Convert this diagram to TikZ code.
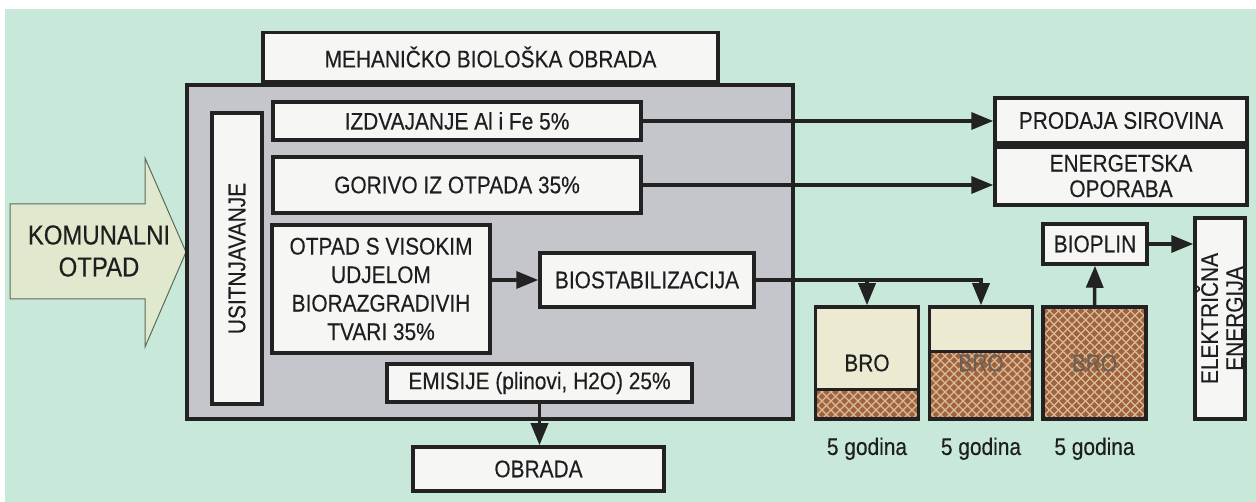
\documentclass[tikz,border=0pt]{standalone}
\usepackage{fontspec}
\setmainfont{Liberation Sans}[FakeStretch=0.87,FakeBold=0.3]
\usetikzlibrary{arrows.meta,calc}
\definecolor{bgc}{HTML}{C8E9DA}
\definecolor{grayc}{HTML}{C4C6CC}
\definecolor{boxc}{HTML}{F6F7F5}
\definecolor{lc}{HTML}{222222}
\definecolor{arrc}{HTML}{E0E9CD}
\definecolor{arrl}{HTML}{5A6A5A}
\definecolor{creamc}{HTML}{ECEBD2}
\definecolor{brownc}{HTML}{A0623F}
\definecolor{hatchc}{HTML}{D9BC94}
\definecolor{txtc}{HTML}{1E1E1E}
\definecolor{fadec}{HTML}{6E5E52}
\newcommand\bfz{\fontsize{24}{28}\selectfont}
\begin{document}
\begin{tikzpicture}[x=1pt,y=-1pt,
  box/.style={draw=lc,line width=3.5pt,fill=boxc,inner sep=0pt,text=txtc,
    font=\bfz,align=center},
  arr/.style={draw=lc,line width=3.5pt,-{Triangle[length=22pt,width=17pt]}},
  lbl/.style={inner sep=0pt,text=txtc,font=\bfz},
  bro/.style={draw=lc,line width=3.5pt,fill=creamc,inner sep=0pt,
    minimum width=103pt,minimum height=112pt,text=txtc,font=\bfz},
  hatched/.style={path picture={
    \begin{scope}
      \clip (path picture bounding box.south west) rectangle ([yshift=#1]path picture bounding box.south east);
      \fill[brownc] (path picture bounding box.south west) rectangle ([yshift=#1]path picture bounding box.south east);
      \foreach \i in {-153,-144,...,153} {
        \draw[hatchc,line width=1.1pt] ([xshift=\i pt]path picture bounding box.south) -- ++(130,-130)
          ([xshift=\i pt]path picture bounding box.south) -- ++(-130,-130);
      }
    \end{scope}
    \draw[lc,line width=3pt] ([yshift=#1]path picture bounding box.south west) -- ([yshift=#1]path picture bounding box.south east);
  }}
]
\useasboundingbox (0,0) rectangle (1256,502);
\fill[white] (0,0) rectangle (1256,502);
\fill[bgc] (5,9) rectangle (1256,502);

% input arrow
\filldraw[fill=arrc,draw=arrl,line width=1pt]
  (10,204) -- (145,204) -- (145,158) -- (186,252) -- (145,347) -- (145,299) -- (10,299) -- cycle;
\node[lbl,align=center,font=\fontsize{27.5}{32}\selectfont] (kom) at (99,251) {KOMUNALNI\\OTPAD};

% main blocks
\node[box,minimum width=455pt,minimum height=49pt] (title) at (490.5,57) {MEHANIČKO BIOLOŠKA OBRADA};
\node[draw=lc,line width=3.5pt,fill=grayc,minimum width=606pt,minimum height=334pt,inner sep=0pt] (mbo) at (490,252) {};
\node[box,minimum width=291pt,minimum height=50pt,rotate=90] (usit) at (237,258.5) {USITNJAVANJE};
\node[box,minimum width=368pt,minimum height=38pt] (iz) at (457,121) {IZDVAJANJE Al i Fe 5\%};
\node[box,minimum width=368pt,minimum height=56pt] (gor) at (457,185) {GORIVO IZ OTPADA 35\%};
\node[box,minimum width=218pt,minimum height=128pt,font=\fontsize{24}{28.5}\selectfont] (otp) at (381,289)
  {OTPAD S VISOKIM\\UDJELOM\\BIORAZGRADIVIH\\TVARI 35\%};
\node[box,minimum width=214pt,minimum height=54pt] (bio) at (647,280) {BIOSTABILIZACIJA};
\node[box,minimum width=305pt,minimum height=38pt] (emis) at (539.5,383) {EMISIJE (plinovi, H2O) 25\%};
\node[box,minimum width=251pt,minimum height=44pt] (obr) at (538.5,469) {OBRADA};

% right side
\node[box,minimum width=252pt,minimum height=45pt] (prod) at (1121,120.5) {PRODAJA SIROVINA};
\node[box,minimum width=252pt,minimum height=58pt,font=\fontsize{24}{25.5}\selectfont] (ener) at (1121,176) {ENERGETSKA\\OPORABA};
\node[box,minimum width=104pt,minimum height=40pt] (biop) at (1095,244) {BIOPLIN};
\node[box,minimum width=201pt,minimum height=50pt,rotate=90,font=\fontsize{24}{25}\selectfont] (elek) at (1220,318.5) {ELEKTRIČNA\\ENERGIJA};

\node[bro,hatched=29pt] (bro1) at (867,363) {BRO};
\node[bro,hatched=67pt,text=fadec] (bro2) at (981,363) {BRO};
\node[bro,hatched=120pt,text=fadec] (bro3) at (1094.5,363) {BRO};

\node[lbl] (g1) at ($(bro1.south)+(0,28)$) {5 godina};
\node[lbl] (g2) at ($(bro2.south)+(0,28)$) {5 godina};
\node[lbl] (g3) at ($(bro3.south)+(0,28)$) {5 godina};

% connectors
\draw[arr] (iz.east) -- (iz.east -| prod.west);
\draw[arr] (gor.east) -- (gor.east -| ener.west);
\draw[arr] (otp.east |- bio.west) -- (bio.west);
\draw[arr] (bio.east) -| (bro2.north);
\draw[arr] (bio.east -| bro1.north) -- (bro1.north);
\draw[arr] (bro3.north) -- (biop.south);
\draw[arr] (biop.east) -- (biop.east -| elek.north);
\draw[arr] (emis.south) -- (emis.south |- obr.north);
\end{tikzpicture}
\end{document}
